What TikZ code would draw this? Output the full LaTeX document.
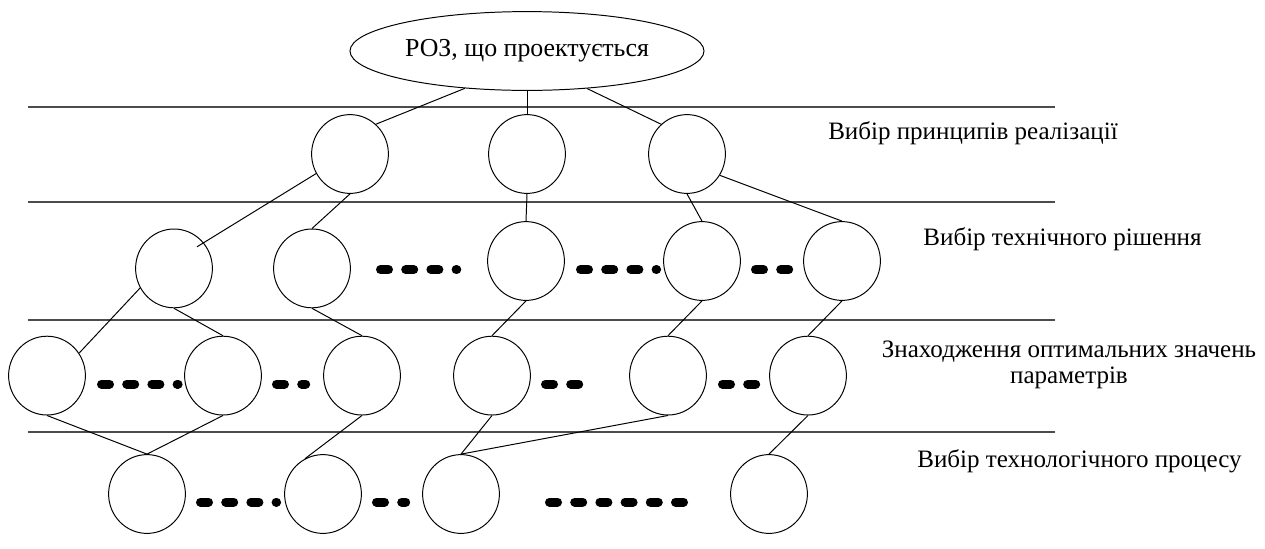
\documentclass[tikz,border=0pt]{standalone}
\usepackage{fontspec}
\setmainfont{Liberation Serif}
\usetikzlibrary{shapes.geometric}

\begin{document}
\begin{tikzpicture}[
  var/.style={ellipse, draw, line width=0.7pt, minimum width=1.92cm, minimum height=1.97cm, inner sep=0pt},
  link/.style={line width=0.7pt},
  layer/.style={line width=1.2pt, black!70},
  gaps/.style={line width=0.225cm, line cap=round, dash pattern=on 0.2cm off 0.43cm},
  lab/.style={font=\fontsize{17.8pt}{17.8pt}\selectfont, anchor=base, inner sep=0pt}
]
  \useasboundingbox (0,0) rectangle (31.625,-13.7);
  % borders between the stages
  \draw[layer] (0.7,-2.675) -- (26.375,-2.675);
  \draw[layer] (0.7,-5.05) -- (26.375,-5.05);
  \draw[layer] (0.7,-8.0) -- (26.375,-8.0);
  \draw[layer] (0.7,-10.8) -- (26.375,-10.8);

  \node[ellipse, draw, line width=0.7pt, minimum width=8.85cm, minimum height=1.97cm, inner sep=0pt,
        font=\fontsize{18.4pt}{18.4pt}\selectfont] (roz) at (13.175,-1.275) {РОЗ, що проектується\hspace{0.42cm}};

  % principles
  \node[var] (p1) at (8.75,-3.85) {};
  \node[var] (p2) at (13.175,-3.85) {};
  \node[var] (p3) at (17.175,-3.85) {};
  % technical solutions
  \node[var] (t1) at (4.35,-6.71) {};
  \node[var] (t2) at (7.8,-6.71) {};
  \node[var] (t3) at (13.15,-6.525) {};
  \node[var] (t4) at (17.55,-6.525) {};
  \node[var] (t5) at (21.05,-6.525) {};
  % optimal parameters
  \node[var] (o1) at (1.175,-9.39) {};
  \node[var] (o2) at (5.575,-9.39) {};
  \node[var] (o3) at (9.05,-9.39) {};
  \node[var] (o4) at (12.3,-9.39) {};
  \node[var] (o5) at (16.7,-9.39) {};
  \node[var] (o6) at (20.2,-9.39) {};
  % technological process
  \node[var] (q1) at (3.675,-12.35) {};
  \node[var] (q2) at (8.075,-12.35) {};
  \node[var] (q3) at (11.525,-12.35) {};
  \node[var] (q4) at (19.225,-12.35) {};

  \draw[link] (roz.211.5) -- (p1.49);
  \draw[link] (roz.south) -- (p2.north);
  \draw[link] (roz.328.5) -- (p3.131);

  \draw[link] (p1.210) -- ([shift={(0.575,0.54)}]t1.center);
  \draw[link] (p1.south) -- (t2.north);
  \draw[link] (p2.south) -- (t3.north);
  \draw[link] (p3.south) -- (t4.north);
  \draw[link] (p3.327) -- (t5.north);

  \draw[link] (t1.210) -- (o1.35);
  \draw[link] (t1.south) -- (o2.north);
  \draw[link] (t2.south) -- (o3.north);
  \draw[link] (t3.south) -- (o4.north);
  \draw[link] (t4.south) -- (o5.north);
  \draw[link] (t5.south) -- (o6.north);

  \draw[link] (o1.south) -- (q1.north);
  \draw[link] (o2.south) -- (q1.north);
  \draw[link] (o3.south) -- (q2.117);
  \draw[link] (o4.south) -- (q3.north);
  \draw[link] (o5.south) -- (q3.north);
  \draw[link] (o6.south) -- (q4.north);

  % omitted variants
  \draw[gaps] (9.5125,-6.74) -- (11.42,-6.74);
  \draw[gaps] (14.5125,-6.74) -- (16.415,-6.74);
  \draw[gaps] (18.8875,-6.74) -- (19.72,-6.74);
  \draw[gaps] (2.5375,-9.6) -- (4.4525,-9.6);
  \draw[gaps] (6.9125,-9.6) -- (7.6425,-9.6);
  \draw[gaps] (13.6375,-9.6) -- (14.4675,-9.6);
  \draw[gaps] (18.0625,-9.6) -- (18.8925,-9.6);
  \draw[gaps] (5.0125,-12.55) -- (6.915,-12.55);
  \draw[gaps] (9.4125,-12.55) -- (10.1425,-12.55);
  \draw[gaps] (13.7375,-12.55) -- (17.0875,-12.55);

  \node[lab] (s1) at (24.325,-3.475) {Вибір принципів реалізації};
  \node[lab] (s2) at (26.5625,-6.125) {Вибір технічного рішення};
  \node[lab, align=center] (s3) at (26.725,-9.575) {Знаходження оптимальних значень\\параметрів};
  \node[lab] (s4) at (26.9875,-11.675) {Вибір технологічного процесу};
\end{tikzpicture}
\end{document}
